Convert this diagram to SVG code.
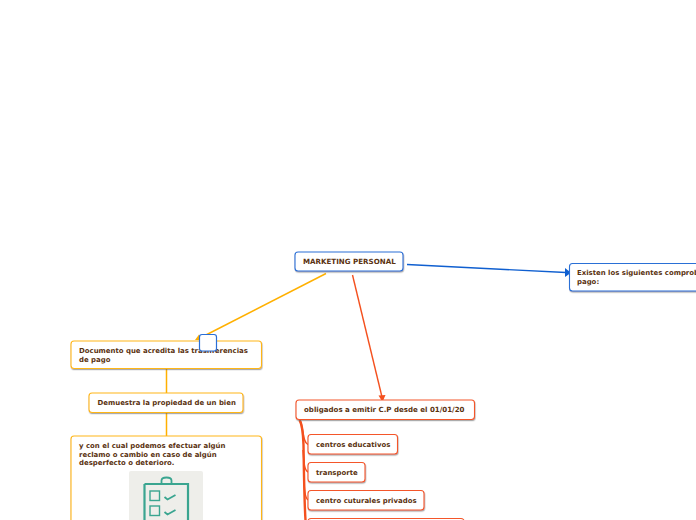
<svg xmlns="http://www.w3.org/2000/svg" width="696" height="520" viewBox="0 0 696 520">
<style>
text{font-family:"DejaVu Sans",Verdana,sans-serif;font-weight:700;font-size:6.95px;fill:#5a3210}
.n{fill:#fff;stroke-width:1.1;filter:url(#s)}
.b{stroke:#2b6fd6}.o{stroke:#ffb619}.r{stroke:#f4562a}
.cb{stroke:#0f5fd0;fill:none;stroke-width:1.4}
.co{stroke:#ffb000;fill:none;stroke-width:1.5}
.cr{stroke:#f4501e;fill:none;stroke-width:1.4}
.ic{fill:none;stroke:#3aa590}
</style>
<defs>
<filter id="s" x="-10%" y="-20%" width="120%" height="150%"><feDropShadow dx="0.5" dy="1.2" stdDeviation="0.7" flood-color="#666" flood-opacity="0.55"/></filter>
</defs>
<g id="connectors">
<path class="cb" d="M407 264.500L566 272.500"/>
<path d="M571 272.700L565 268V277Z" fill="#0f5fd0"/>
<path class="co" d="M326 273.500L204 336"/>
<path d="M195 340L199 334.500 202 340Z" fill="#ffb000"/>
<path class="cr" d="M352.500 275L382 397"/>
<path d="M382.500 402L378.500 395.500 385.500 395Z" fill="#f4501e"/>
<path class="co" d="M166.500 369V393M166.500 413V436"/>
<path d="M299.500 420C302 424 303 430 303.500 445C304 480 304.500 505 305.500 520" fill="none" stroke="#f4501e" stroke-width="2.4"/>
<path class="cr" d="M300 420C304 428 302 442 308 444.500M303 450C304 462 304 470 308 472M304 476C304 490 305 498 308 500"/>
</g>
<g id="node-root">
<rect class="n b" x="295" y="252" width="108" height="19" rx="3"/>
<text x="303" y="264" style="font-size:7.1px">MARKETING PERSONAL</text>
</g>
<g id="node-comprobantes">
<rect class="n b" x="569.500" y="263.500" width="140" height="27.500" rx="3"/>
<text x="577" y="274.500">Existen los siguientes comprobantes de</text>
<text x="577" y="284">pago:</text>
</g>
<g id="node-documento">
<rect class="n o" x="71" y="341" width="190.500" height="27.500" rx="3"/>
<text x="79" y="352.500">Documento que acredita las trasnferencias</text>
<text x="79" y="361.500">de pago</text>
</g>
<g id="node-marker">
<rect x="199.500" y="334.500" width="17" height="16.500" rx="2.500" fill="#fff" stroke="#2b6fd6" stroke-width="1.200"/>
</g>
<g id="node-demuestra">
<rect class="n o" x="89" y="393" width="154" height="19.500" rx="3"/>
<text x="97.500" y="405">Demuestra la propiedad de un bien</text>
</g>
<g id="node-reclamo">
<rect class="n o" x="71" y="436" width="190.500" height="100" rx="3"/>
<text x="79" y="448">y con el cual podemos efectuar algún</text>
<text x="79" y="457">reclamo o cambio en caso de algún</text>
<text x="79" y="465">desperfecto o deterioro.</text>
<rect x="129" y="471" width="74" height="60" rx="2" fill="#eeeeea"/>
<path class="ic" stroke-width="2.200" d="M144.500 484V525M144.500 484H188V525"/>
<path class="ic" stroke-width="1.800" d="M161.500 484V480.500Q161.500 477.500 166.500 477.500Q171.500 477.500 171.500 480.500V484"/>
<rect class="ic" stroke-width="1.400" x="150" y="491" width="9.500" height="9.500"/>
<rect class="ic" stroke-width="1.400" x="150" y="506" width="9.500" height="9.500"/>
<path class="ic" stroke-width="1.800" d="M164.500 497L167.500 499.500 175.500 495M164.500 512L167.500 514.500 175.500 510"/>
</g>
<g id="node-obligados">
<rect class="n r" x="296" y="400" width="178.500" height="19.500" rx="3"/>
<text x="304" y="412" style="font-size:7.05px">obligados a emitir C.P desde el 01/01/20</text>
</g>
<g id="node-centros">
<rect class="n r" x="308" y="434.500" width="89.500" height="19.500" rx="3"/>
<text x="316" y="447">centros educativos</text>
</g>
<g id="node-transporte">
<rect class="n r" x="308" y="462.500" width="57" height="19.500" rx="3"/>
<text x="316" y="475">transporte</text>
</g>
<g id="node-culturales">
<rect class="n r" x="308" y="490.500" width="116" height="19.500" rx="3"/>
<text x="316" y="503">centro cuturales privados</text>
</g>
<g id="node-next">
<rect class="n r" x="308" y="518.500" width="156" height="19.500" rx="3"/>
</g>
</svg>
